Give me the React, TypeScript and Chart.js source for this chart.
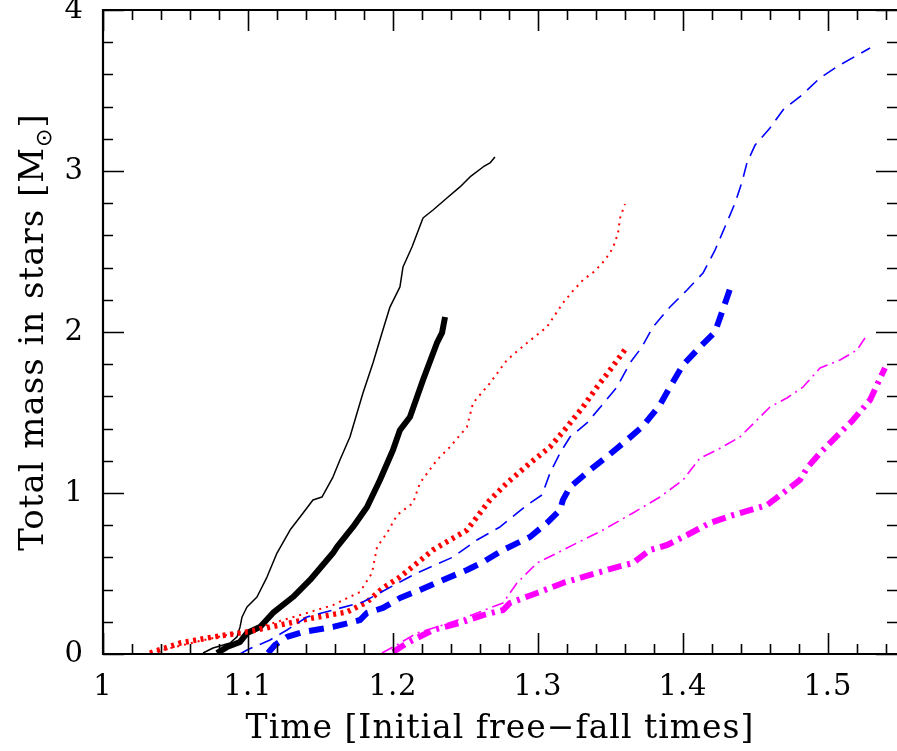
import React, { useEffect, useRef } from "react";
import { Chart, registerables } from "chart.js";

Chart.register(...registerables);

// Axis ticks (labels)
const xTickValues = [1, 1.1, 1.2, 1.3, 1.4, 1.5];
const yTickValues = [0, 1, 2, 3, 4];
const X_MIN = 1;
const X_MAX = 1.5476;
const Y_MIN = 0;
const Y_MAX = 4;

const xTitle = "Time [Initial free\u2212fall times]";
const yTitleMain = "Total mass in stars [M";
const yTitleSub = "\u2299";
const yTitleEnd = "]";

// Series: black thin solid
const blackThinT = [1.069, 1.0759, 1.0876, 1.0924, 1.0945, 1.0959, 1.0993, 1.1062, 1.1131, 1.12, 1.129, 1.1359, 1.1448, 1.151, 1.1586, 1.1634, 1.1703, 1.1752, 1.1793, 1.1862, 1.1924, 1.1979, 1.2048, 1.2069, 1.2131, 1.2207, 1.2276, 1.2372, 1.2462, 1.2531, 1.2621, 1.2669, 1.2703];
const blackThinM = [0.006, 0.037, 0.068, 0.106, 0.168, 0.23, 0.292, 0.354, 0.478, 0.627, 0.77, 0.851, 0.957, 0.975, 1.099, 1.205, 1.348, 1.497, 1.621, 1.807, 1.994, 2.155, 2.28, 2.404, 2.528, 2.708, 2.758, 2.832, 2.901, 2.963, 3.025, 3.05, 3.087];

// Series: black thick solid
const blackThickT = [1.0786, 1.0855, 1.0945, 1.0993, 1.1083, 1.1172, 1.131, 1.1428, 1.1586, 1.1614, 1.1724, 1.1821, 1.191, 1.2, 1.2048, 1.2117, 1.2207, 1.2303, 1.2338, 1.2359];
const blackThickM = [0.006, 0.043, 0.075, 0.13, 0.168, 0.255, 0.354, 0.46, 0.627, 0.665, 0.789, 0.913, 1.081, 1.267, 1.391, 1.472, 1.702, 1.932, 1.994, 2.093];

// Series: red thin dotted
const redThinT = [1.0324, 1.0669, 1.1014, 1.1407, 1.1586, 1.1772, 1.1855, 1.189, 1.1959, 1.2028, 1.2138, 1.2186, 1.2303, 1.2393, 1.251, 1.2552, 1.2669, 1.2786, 1.2924, 1.3062, 1.3117, 1.3172, 1.3241, 1.331, 1.3393, 1.3462, 1.3517, 1.3552, 1.3566, 1.36];
const redThinM = [0.006, 0.081, 0.149, 0.255, 0.304, 0.385, 0.503, 0.665, 0.752, 0.863, 0.938, 1.062, 1.205, 1.286, 1.41, 1.559, 1.683, 1.826, 1.932, 2.031, 2.106, 2.18, 2.255, 2.323, 2.379, 2.447, 2.522, 2.615, 2.708, 2.795];

// Series: red thick dotted
const redThickT = [1.0324, 1.0531, 1.0759, 1.0993, 1.1221, 1.1448, 1.1683, 1.1821, 1.1931, 1.2048, 1.2166, 1.2276, 1.2393, 1.251, 1.2579, 1.2669, 1.2786, 1.2945, 1.3083, 1.32, 1.331, 1.3407, 1.3497, 1.3614];
const redThickM = [0.006, 0.068, 0.106, 0.137, 0.18, 0.224, 0.261, 0.323, 0.41, 0.478, 0.565, 0.646, 0.708, 0.77, 0.851, 0.957, 1.062, 1.186, 1.286, 1.41, 1.534, 1.658, 1.764, 1.907];

// Series: blue thin dashed
const blueThinT = [1.0945, 1.0993, 1.1152, 1.1269, 1.1407, 1.1586, 1.1793, 1.2048, 1.2166, 1.2414, 1.2579, 1.2738, 1.2924, 1.3028, 1.3083, 1.3152, 1.3221, 1.3338, 1.3448, 1.3545, 1.3634, 1.3717, 1.3793, 1.391, 1.4028, 1.4138, 1.4221, 1.431, 1.4359, 1.4407, 1.4441, 1.4497, 1.46, 1.469, 1.482, 1.4945, 1.5069, 1.529];
const blueThinM = [0, 0.025, 0.087, 0.149, 0.23, 0.273, 0.323, 0.447, 0.503, 0.602, 0.708, 0.789, 0.925, 0.988, 1.124, 1.248, 1.348, 1.435, 1.553, 1.658, 1.807, 1.907, 2.031, 2.155, 2.261, 2.366, 2.509, 2.696, 2.801, 2.932, 3.05, 3.161, 3.267, 3.379, 3.472, 3.578, 3.652, 3.764];

// Series: blue thick dashed
const blueThickT = [1.1138, 1.1186, 1.1269, 1.1379, 1.1586, 1.1772, 1.1821, 1.1931, 1.2048, 1.2186, 1.2345, 1.251, 1.2621, 1.2759, 1.2945, 1.3062, 1.3152, 1.3172, 1.3221, 1.3359, 1.3497, 1.3614, 1.3724, 1.3841, 1.391, 1.4, 1.4117, 1.4221, 1.4269, 1.4338];
const blueThickM = [0.006, 0.056, 0.106, 0.137, 0.168, 0.211, 0.255, 0.286, 0.348, 0.398, 0.46, 0.522, 0.571, 0.646, 0.727, 0.814, 0.894, 0.957, 1.037, 1.143, 1.242, 1.329, 1.416, 1.547, 1.658, 1.795, 1.907, 2.0, 2.124, 2.304];

// Series: magenta thin dash-dot
const magentaThinT = [1.1924, 1.2, 1.2166, 1.2345, 1.251, 1.2669, 1.2759, 1.2807, 1.2855, 1.2993, 1.3131, 1.331, 1.3448, 1.3655, 1.3841, 1.4, 1.4117, 1.4234, 1.4393, 1.451, 1.46, 1.4717, 1.4828, 1.4945, 1.5083, 1.52, 1.5255];
const magentaThinM = [0.006, 0.043, 0.13, 0.18, 0.23, 0.286, 0.317, 0.379, 0.441, 0.565, 0.627, 0.708, 0.77, 0.876, 0.975, 1.081, 1.217, 1.267, 1.348, 1.453, 1.534, 1.59, 1.658, 1.776, 1.826, 1.888, 1.963];

// Series: magenta thick dash-dot
const magentaThickT = [1.2, 1.2097, 1.2276, 1.2462, 1.2621, 1.2759, 1.2807, 1.2993, 1.3172, 1.3359, 1.3545, 1.3655, 1.3772, 1.389, 1.4028, 1.4186, 1.4345, 1.4579, 1.469, 1.4807, 1.4855, 1.4945, 1.5034, 1.5172, 1.529, 1.5338, 1.5393];
const magentaThickM = [0.012, 0.068, 0.149, 0.193, 0.242, 0.273, 0.317, 0.379, 0.441, 0.491, 0.54, 0.565, 0.646, 0.677, 0.739, 0.814, 0.863, 0.925, 1.0, 1.081, 1.155, 1.248, 1.329, 1.453, 1.578, 1.671, 1.776];

const zip = (t: number[], m: number[]) => t.map((v, i) => ({ x: v, y: m[i] }));

const SERIF = '"DejaVu Serif", "Liberation Serif", serif';

const fmt = (v: number) => {
  const r = Math.round(v * 10) / 10;
  return Number.isInteger(r) ? String(r) : r.toFixed(1);
};

const framePlugin = {
  id: "frame",
  beforeDraw(chart: any) {
    try {
      chart.ctx.letterSpacing = "1px";
    } catch (e) {}
  },
  afterDatasetsDraw(chart: any) {
    const { ctx, chartArea } = chart;
    const { left, right, top, bottom } = chartArea;
    const xs = chart.scales.x;
    const ys = chart.scales.y;
    ctx.save();
    ctx.strokeStyle = "#000";
    ctx.lineCap = "butt";
    ctx.setLineDash([]);
    // ticks
    ctx.lineWidth = 1.6;
    ctx.beginPath();
    for (let i = 0; ; i++) {
      const v = X_MIN + i * 0.02;
      if (v > X_MAX + 1e-9) break;
      const major = i % 5 === 0;
      const len = major ? 21 : 10;
      const px = Math.round(xs.getPixelForValue(v)) + 0.5;
      ctx.moveTo(px, bottom);
      ctx.lineTo(px, bottom - len);
      ctx.moveTo(px, top);
      ctx.lineTo(px, top + len);
    }
    for (let i = 0; ; i++) {
      const v = Y_MIN + i * 0.2;
      if (v > Y_MAX + 1e-9) break;
      const major = i % 5 === 0;
      const len = major ? 21 : 10;
      const py = Math.round(ys.getPixelForValue(v)) + 0.5;
      ctx.moveTo(left, py);
      ctx.lineTo(left + len, py);
      ctx.moveTo(right, py);
      ctx.lineTo(right - len, py);
    }
    ctx.stroke();
    // frame (left, top, bottom)
    ctx.lineWidth = 2.2;
    ctx.beginPath();
    ctx.moveTo(right + 2, top);
    ctx.lineTo(left, top);
    ctx.lineTo(left, bottom);
    ctx.lineTo(right + 2, bottom);
    ctx.stroke();
    ctx.restore();
  },
  afterDraw(chart: any) {
    const { ctx, chartArea } = chart;
    ctx.save();
    ctx.fillStyle = "#000";
    try {
      ctx.letterSpacing = "1px";
    } catch (e) {}
    // x title
    ctx.font = `33px ${SERIF}`;
    ctx.textAlign = "center";
    ctx.textBaseline = "alphabetic";
    ctx.fillText(xTitle, 500, 738);
    // y title (rotated) with subscript
    const cy = (chartArea.top + chartArea.bottom) / 2;
    ctx.translate(43, cy);
    ctx.rotate(-Math.PI / 2);
    const mainFont = `34px ${SERIF}`;
    const subFont = `22px "DejaVu Sans", sans-serif`;
    ctx.font = mainFont;
    const wMain = ctx.measureText(yTitleMain).width;
    ctx.font = subFont;
    const wSub = ctx.measureText(yTitleSub).width;
    ctx.font = mainFont;
    const wEnd = ctx.measureText(yTitleEnd).width;
    const total = wMain + wSub + wEnd;
    let x0 = -total / 2;
    ctx.textAlign = "left";
    ctx.fillText(yTitleMain, x0, 0);
    x0 += wMain;
    ctx.font = subFont;
    ctx.fillText(yTitleSub, x0, 8);
    x0 += wSub;
    ctx.font = mainFont;
    ctx.fillText(yTitleEnd, x0, 0);
    ctx.restore();
  },
};

export default function App() {
  const canvasRef = useRef<HTMLCanvasElement | null>(null);

  useEffect(() => {
    document.body.style.margin = "0";
    const canvas = canvasRef.current;
    if (!canvas) return;
    const ds = (
      label: string,
      t: number[],
      m: number[],
      color: string,
      width: number,
      dash: number[],
      order: number
    ) => ({
      label,
      data: zip(t, m),
      borderColor: color,
      backgroundColor: color,
      borderWidth: width,
      borderDash: dash,
      borderCapStyle: "butt",
      borderJoinStyle: "round",
      pointRadius: 0,
      fill: false,
      tension: 0,
      order,
    });
    const chart = new Chart(canvas, {
      type: "line",
      data: {
        datasets: [
          ds("black thin", blackThinT, blackThinM, "#000000", 1.5, [], 8),
          ds("black thick", blackThickT, blackThickM, "#000000", 6, [], 7),
          ds("red thin", redThinT, redThinM, "#ff0000", 2, [2, 5], 6),
          ds("red thick", redThickT, redThickM, "#ff0000", 5.5, [3, 4.5], 5),
          ds("blue thin", blueThinT, blueThinM, "#0000ff", 1.6, [14, 8], 4),
          ds("blue thick", blueThickT, blueThickM, "#0000ff", 6, [15, 9], 3),
          ds("magenta thin", magentaThinT, magentaThinM, "#ff00ff", 1.6, [12, 5, 2, 5], 2),
          ds("magenta thick", magentaThickT, magentaThickM, "#ff00ff", 6, [14, 6, 3, 6], 1),
        ] as any,
      },
      options: {
        responsive: false,
        animation: false,
        devicePixelRatio: 1,
        layout: { padding: { top: 10, right: 0, left: 0, bottom: 0 } },
        plugins: { legend: { display: false }, tooltip: { enabled: false } },
        scales: {
          x: {
            type: "linear",
            min: X_MIN,
            max: X_MAX,
            grid: { display: false },
            border: { display: false },
            afterBuildTicks: (s: any) => {
              s.ticks = xTickValues.map((v) => ({ value: v }));
            },
            afterFit: (s: any) => {
              s.height = 97;
              s.paddingLeft = 0;
              s.paddingRight = 0;
            },
            ticks: {
              font: { family: SERIF, size: 29 },
              color: "#000",
              padding: 8,
              maxRotation: 0,
              autoSkip: false,
              callback: (v: any) => fmt(Number(v)),
            },
          },
          y: {
            type: "linear",
            min: Y_MIN,
            max: Y_MAX,
            grid: { display: false },
            border: { display: false },
            afterBuildTicks: (s: any) => {
              s.ticks = yTickValues.map((v) => ({ value: v }));
            },
            afterFit: (s: any) => {
              s.width = 103;
              s.paddingTop = 0;
              s.paddingBottom = 0;
            },
            ticks: {
              font: { family: SERIF, size: 29 },
              color: "#000",
              padding: 11,
              autoSkip: false,
              callback: (v: any) => fmt(Number(v)),
            },
          },
        },
      } as any,
      plugins: [framePlugin],
    });
    return () => chart.destroy();
  }, []);

  return (
    <div style={{ position: "absolute", left: 0, top: 0, width: 897, height: 751, background: "#fff" }}>
      <canvas ref={canvasRef} width={897} height={751} style={{ display: "block" }} />
    </div>
  );
}
